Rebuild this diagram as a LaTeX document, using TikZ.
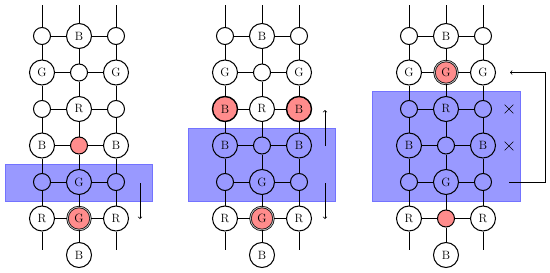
\documentclass[tikz,border=0pt]{standalone}
\usetikzlibrary{shapes.misc}
\begin{document}
\begin{tikzpicture}[x=1pt,y=-1pt,line width=1pt,>=to,font=\large,
  big/.style={circle,draw,minimum size=25pt,inner sep=0pt,fill=white},
  sm/.style={circle,draw,minimum size=17pt,inner sep=0pt,fill=white},
  inb/.style={fill=blue!40},
  hl/.style={fill=red!45},
  thick hl/.style={fill=red!45,line width=1.4pt},
  dbl/.style={fill=red!45,double=gray!55,double distance=0.9pt,line width=0.7pt,minimum size=23pt},
  band/.style={fill=blue!40,draw=blue!55,line width=0.4pt},
  xmark/.style={cross out,draw,minimum size=8pt,inner sep=0pt,line width=0.6pt},
  arr/.style={->,line width=0.7pt}]
\useasboundingbox (0,0) rectangle (550,273);
% bands
\fill[band] (4.7,164) rectangle (152,201);
\fill[band] (188.3,127.7) rectangle (335.3,201);
\fill[band] (372.3,90.7) rectangle (520,201.3);
% ---------- panel 1 ----------
\node[sm]  (p1r1c1) at (42,36) {};
\node[big] (p1r1c2) at (79,36) {B};
\node[sm]  (p1r1c3) at (116,36) {};
\node[big] (p1r2c1) at (42,72.5) {G};
\node[sm]  (p1r2c2) at (79,72.5) {};
\node[big] (p1r2c3) at (116,72.5) {G};
\node[sm]  (p1r3c1) at (42,109) {};
\node[big] (p1r3c2) at (79,109) {R};
\node[sm]  (p1r3c3) at (116,109) {};
\node[big] (p1r4c1) at (42,145.5) {B};
\node[sm,hl] (p1r4c2) at (79,145.5) {};
\node[big] (p1r4c3) at (116,145.5) {B};
\node[sm,inb]  (p1r5c1) at (42,182) {};
\node[big,inb] (p1r5c2) at (79,182) {G};
\node[sm,inb]  (p1r5c3) at (116,182) {};
\node[big] (p1r6c1) at (42,218.5) {R};
\node[big,dbl] (p1r6c2) at (79,218.5) {G};
\node[big] (p1r6c3) at (116,218.5) {R};
\node[big] (p1b) at (79,255) {B};
\coordinate (p1t1) at (42,5); \coordinate (p1t2) at (79,5); \coordinate (p1t3) at (116,5);
\coordinate (p1d1) at (42,250); \coordinate (p1d3) at (116,250);
% ---------- panel 2 ----------
\node[sm]  (p2r1c1) at (225,36) {};
\node[big] (p2r1c2) at (262,36) {B};
\node[sm]  (p2r1c3) at (299,36) {};
\node[big] (p2r2c1) at (225,72.5) {G};
\node[sm]  (p2r2c2) at (262,72.5) {};
\node[big] (p2r2c3) at (299,72.5) {G};
\node[big,thick hl] (p2r3c1) at (225,109) {B};
\node[big] (p2r3c2) at (262,109) {R};
\node[big,thick hl] (p2r3c3) at (299,109) {B};
\node[big,inb] (p2r4c1) at (225,145.5) {B};
\node[sm,inb]  (p2r4c2) at (262,145.5) {};
\node[big,inb] (p2r4c3) at (299,145.5) {B};
\node[sm,inb]  (p2r5c1) at (225,182) {};
\node[big,inb] (p2r5c2) at (262,182) {G};
\node[sm,inb]  (p2r5c3) at (299,182) {};
\node[big] (p2r6c1) at (225,218.5) {R};
\node[big,dbl] (p2r6c2) at (262,218.5) {G};
\node[big] (p2r6c3) at (299,218.5) {R};
\node[big] (p2b) at (262,255) {B};
\coordinate (p2t1) at (225,5); \coordinate (p2t2) at (262,5); \coordinate (p2t3) at (299,5);
\coordinate (p2d1) at (225,250); \coordinate (p2d3) at (299,250);
% ---------- panel 3 ----------
\node[sm]  (p3r1c1) at (409,36) {};
\node[big] (p3r1c2) at (446,36) {B};
\node[sm]  (p3r1c3) at (483,36) {};
\node[big] (p3r2c1) at (409,72.5) {G};
\node[big,dbl] (p3r2c2) at (446,72.5) {G};
\node[big] (p3r2c3) at (483,72.5) {G};
\node[sm,inb]  (p3r3c1) at (409,109) {};
\node[big,inb] (p3r3c2) at (446,109) {R};
\node[sm,inb]  (p3r3c3) at (483,109) {};
\node[big,inb] (p3r4c1) at (409,145.5) {B};
\node[sm,inb]  (p3r4c2) at (446,145.5) {};
\node[big,inb] (p3r4c3) at (483,145.5) {B};
\node[sm,inb]  (p3r5c1) at (409,182) {};
\node[big,inb] (p3r5c2) at (446,182) {G};
\node[sm,inb]  (p3r5c3) at (483,182) {};
\node[big] (p3r6c1) at (409,218.5) {R};
\node[sm,hl] (p3r6c2) at (446,218.5) {};
\node[big] (p3r6c3) at (483,218.5) {R};
\node[big] (p3b) at (446,255) {B};
\coordinate (p3t1) at (409,5); \coordinate (p3t2) at (446,5); \coordinate (p3t3) at (483,5);
\coordinate (p3d1) at (409,250); \coordinate (p3d3) at (483,250);
% ---------- edges ----------
\foreach \p in {1,2,3}{
  \foreach \r in {1,...,6}{
    \draw (p\p r\r c1) -- (p\p r\r c2) -- (p\p r\r c3);
  }
  \foreach \c in {1,2,3}{
    \draw (p\p t\c) -- (p\p r1c\c) -- (p\p r2c\c) -- (p\p r3c\c) -- (p\p r4c\c) -- (p\p r5c\c) -- (p\p r6c\c);
  }
  \draw (p\p r6c1) -- (p\p d1);
  \draw (p\p r6c3) -- (p\p d3);
  \draw (p\p r6c2) -- (p\p b);
}
% ---------- arrows and marks ----------
\coordinate (a1s) at (140,183); \coordinate (a1e) at (140,219);
\draw[arr] (a1s) -- (a1e);
\coordinate (a2s) at (325,146); \coordinate (a2e) at (325,110);
\draw[arr] (a2s) -- (a2e);
\coordinate (a3s) at (325,183); \coordinate (a3e) at (325,219);
\draw[arr] (a3s) -- (a3e);
\coordinate (a4s) at (509,182); \coordinate (a4e) at (510,72.5);
\draw[arr] (a4s) -- (545,182) |- (a4e);
\node[xmark] (x1) at (509,109) {};
\node[xmark] (x2) at (509,146) {};
\end{tikzpicture}
\end{document}
